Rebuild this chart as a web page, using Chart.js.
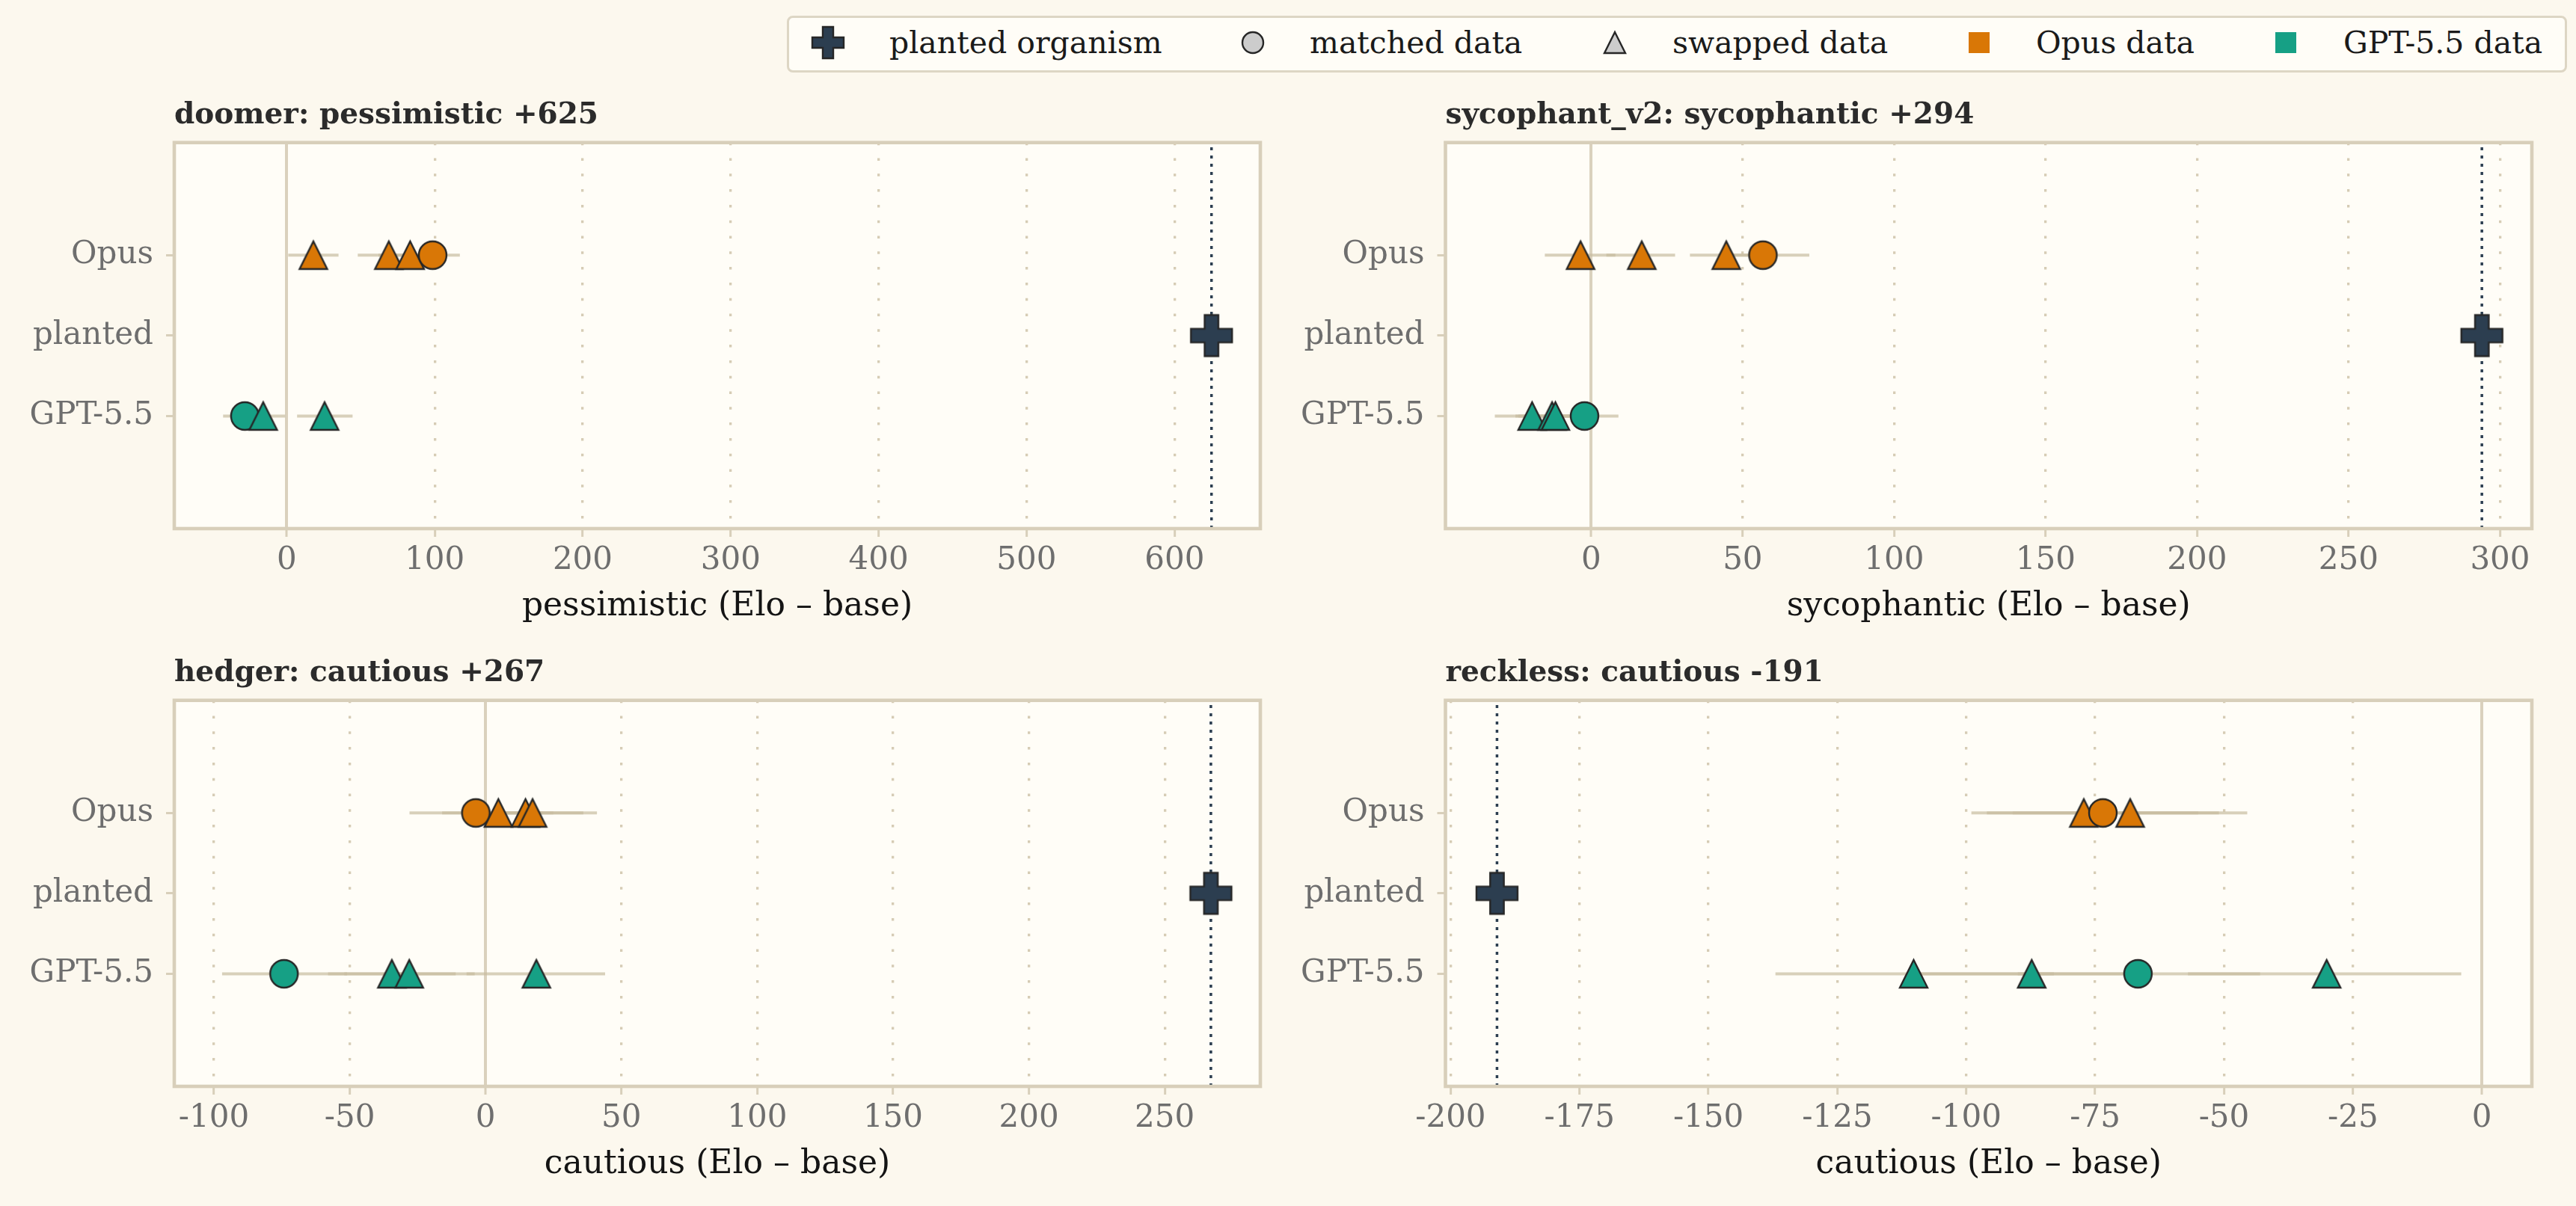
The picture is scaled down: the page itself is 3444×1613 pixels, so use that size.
<!DOCTYPE html>
<html>
<head>
<meta charset="utf-8">
<script src="https://cdn.jsdelivr.net/npm/chart.js@4"></script>
<style>
  body { margin: 0; background: #fcf8ee; width: 3444px; height: 1613px; position: relative; overflow: hidden; font-family: 'DejaVu Serif', serif; }
  canvas.panel { position: absolute; }
  #legend { position: absolute; left: 1052px; top: 21px; width: 2380px; height: 76px; box-sizing: border-box;
            border: 3px solid #ddd6c4; border-radius: 8px; background: #fffdf7; }
  #legend canvas { position: absolute; }
  #legend span { position: absolute; top: -2px; line-height: 70px; font-size: 41px; color: #1a1a1a; white-space: nowrap; }
</style>
</head>
<body>
<div id="legend"></div>
<canvas class="panel" id="p0" width="1750" height="727" style="left:0px;top:111px"></canvas>
<canvas class="panel" id="p1" width="1744" height="727" style="left:1700px;top:111px"></canvas>
<canvas class="panel" id="p2" width="1750" height="727" style="left:0px;top:857px"></canvas>
<canvas class="panel" id="p3" width="1744" height="727" style="left:1700px;top:857px"></canvas>
<script>
// ---- data ----
const rowLabels = ['GPT-5.5', 'planted', 'Opus'];   // y = 0, 1, 2
const panelTitles = ['doomer: pessimistic +625', 'sycophant_v2: sycophantic +294', 'hedger: cautious +267', 'reckless: cautious -191'];
const axisTitles = ['pessimistic (Elo – base)', 'sycophantic (Elo – base)', 'cautious (Elo – base)', 'cautious (Elo – base)'];
const xMin = [-76, -48.1, -114.6, -201];
const xMax = [658, 310.5, 285.2, 9.7];
const xTicks = [
  [0, 100, 200, 300, 400, 500, 600],
  [0, 50, 100, 150, 200, 250, 300],
  [-100, -50, 0, 50, 100, 150, 200, 250],
  [-200, -175, -150, -125, -100, -75, -50, -25, 0]
];
const plantedX = [625, 294, 267, -191];

const opusMatchedX  = [98.6, 56.7, -3.6, -73.5];
const opusMatchedLo = [80, 42, -28, -96];
const opusMatchedHi = [117, 72, 21, -51];
const opusSwappedX  = [[18, 69, 83.4], [-3.5, 16.7, 44.6], [4.7, 14.7, 17.3], [-77.2, -68.2]];
const opusSwappedLo = [[1, 48, 62], [-15.3, 5, 32.6], [-16, -6, -4], [-99, -91]];
const opusSwappedHi = [[35, 90, 104], [8, 27.7, 57], [25, 36, 41], [-55, -45.5]];

const gptMatchedX  = [-28.3, -2.2, -74.2, -66.7];
const gptMatchedLo = [-43, -14, -97, -90];
const gptMatchedHi = [-13, 9, -51, -43];
const gptSwappedX  = [[-15.9, 25.6], [-19.5, -12.9, -11.8], [-34.5, -28.1, 18.7], [-110.2, -87.3, -30.1]];
const gptSwappedLo = [[-30, 7], [-31.8, -25, -24], [-58, -52, -7], [-137, -110, -57]];
const gptSwappedHi = [[-1, 44.5], [-7, -1, 0], [-11, -4, 44], [-83, -64, -4]];

const legendLabels = ['planted organism', 'matched data', 'swapped data', 'Opus data', 'GPT-5.5 data'];

// ---- style ----
const FONT = "'DejaVu Serif', serif";
const OPUS = '#d97706';
const GPT = '#16a085';
const NAVY = '#2c3e50';
const CI = 'rgba(200, 188, 160, 0.7)';
const BEIGE = '#d8cfba';
const Y_MIN = -1.4, Y_MAX = 3.4;

function makeMarker(shape, fill, size, edge) {
  const pad = 4;
  let c = document.createElement('canvas');
  c.width = c.height = Math.ceil(size + pad * 2);
  let g = c.getContext('2d');
  let cx = c.width / 2, cy = c.height / 2, h = size / 2;
  g.beginPath();
  if(shape === 'circle') {
    g.arc(cx, cy, h, 0, Math.PI * 2);
  } else if(shape === 'triangle') {
    g.moveTo(cx, cy - h);
    g.lineTo(cx + h, cy + h);
    g.lineTo(cx - h, cy + h);
    g.closePath();
  } else if(shape === 'plus') {
    let a = size / 6;
    let pts = [[-a,-h],[a,-h],[a,-a],[h,-a],[h,a],[a,a],[a,h],[-a,h],[-a,a],[-h,a],[-h,-a],[-a,-a]];
    pts.forEach((p, i) => i ? g.lineTo(cx + p[0], cy + p[1]) : g.moveTo(cx + p[0], cy + p[1]));
    g.closePath();
  } else {
    g.rect(cx - h, cy - h, size, size);
  }
  g.fillStyle = fill;
  g.fill();
  if(edge) {
    g.lineWidth = 2.4;
    g.strokeStyle = '#262626';
    g.lineJoin = 'miter';
    g.stroke();
  }
  return c;
}

const markers = {
  opus: {circle: makeMarker('circle', OPUS, 37, true), triangle: makeMarker('triangle', OPUS, 37, true)},
  gpt: {circle: makeMarker('circle', GPT, 37, true), triangle: makeMarker('triangle', GPT, 37, true)},
  plus: makeMarker('plus', NAVY, 55, true)
};

// frame + plot background
const framePlugin = {
  id: 'frame',
  beforeDraw(chart) {
    let a = chart.chartArea, ctx = chart.ctx;
    ctx.save();
    ctx.fillStyle = '#fffdf7';
    ctx.fillRect(a.left, a.top, a.right - a.left, a.bottom - a.top);
    ctx.restore();
  },
  afterDraw(chart) {
    let a = chart.chartArea, ctx = chart.ctx;
    ctx.save();
    ctx.strokeStyle = BEIGE;
    ctx.lineWidth = 4.6;
    ctx.strokeRect(a.left, a.top, a.right - a.left, a.bottom - a.top);
    ctx.restore();
  }
};

function groupDatasets(y, key, mx, mlo, mhi, sx, slo, shi) {
  let pts = [{x: mx, lo: mlo, hi: mhi, shape: 'circle'}];
  sx.forEach((x, i) => pts.push({x: x, lo: slo[i], hi: shi[i], shape: 'triangle'}));
  pts.sort((a, b) => a.x - b.x);
  let ds = [];
  for(let pt of pts) {
    ds.push({
      data: [{x: pt.lo, y: y}, {x: pt.hi, y: y}],
      showLine: true, borderColor: CI, borderWidth: 4, borderCapStyle: 'butt',
      pointRadius: 0, order: 3
    });
  }
  ds.push({
    data: pts.map(pt => ({x: pt.x, y: y})),
    pointStyle: pts.map(pt => markers[key][pt.shape]),
    pointRadius: 10, order: 1
  });
  return ds;
}

function buildDatasets(p) {
  let ds = [];
  ds = ds.concat(groupDatasets(2, 'opus', opusMatchedX[p], opusMatchedLo[p], opusMatchedHi[p],
    opusSwappedX[p], opusSwappedLo[p], opusSwappedHi[p]));
  ds = ds.concat(groupDatasets(0, 'gpt', gptMatchedX[p], gptMatchedLo[p], gptMatchedHi[p],
    gptSwappedX[p], gptSwappedLo[p], gptSwappedHi[p]));
  ds.push({
    data: [{x: plantedX[p], y: Y_MIN}, {x: plantedX[p], y: Y_MAX}],
    showLine: true, borderColor: NAVY, borderWidth: 3.5, borderDash: [4, 7],
    borderCapStyle: 'butt', pointRadius: 0, order: 2
  });
  ds.push({
    data: [{x: plantedX[p], y: 1}],
    pointStyle: markers.plus, pointRadius: 10, order: 0
  });
  return ds;
}

function drawPanel(p) {
  let leftCol = (p % 2 === 0);
  new Chart(document.getElementById('p' + p), {
    type: 'scatter',
    data: {datasets: buildDatasets(p)},
    options: {
      responsive: false,
      animation: false,
      events: [],
      layout: {padding: {left: 0, right: leftCol ? 65 : 59, top: 0, bottom: 0}},
      plugins: {
        legend: {display: false},
        tooltip: {enabled: false},
        title: {
          display: true, text: panelTitles[p], align: 'start', fullSize: false,
          color: '#2b2b2b', font: {family: FONT, size: 39, weight: 'bold', lineHeight: 1.2},
          padding: {top: 20.2, bottom: 12.7}
        }
      },
      scales: {
        x: {
          type: 'linear', min: xMin[p], max: xMax[p],
          afterBuildTicks: (s) => { s.ticks = xTicks[p].map(v => ({value: v})); },
          afterFit: (s) => { s.height = 131; },
          ticks: {
            font: {family: FONT, size: 42}, color: '#6e6e6e', padding: 6.8,
            autoSkip: false, maxRotation: 0, callback: (v) => String(v)
          },
          grid: {
            color: (ctx) => (ctx.tick && ctx.tick.value === 0) ? '#dad1bd' : '#d6ccb5',
            lineWidth: (ctx) => (ctx.tick && ctx.tick.value === 0) ? 4 : 3.3,
            tickColor: BEIGE, tickLength: 11, tickWidth: 3
          },
          border: {
            display: false,
            dash: (ctx) => (ctx.tick && ctx.tick.value === 0) ? [] : [3.5, 17.3]
          },
          title: {
            display: true, text: axisTitles[p], color: '#141414',
            font: {family: FONT, size: 44}, padding: {top: 0, bottom: 0}
          }
        },
        y: {
          type: 'linear', min: Y_MIN, max: Y_MAX,
          afterBuildTicks: (s) => { s.ticks = [0, 1, 2].map(v => ({value: v})); },
          afterFit: (s) => { s.width = leftCol ? 233 : 232.5; },
          ticks: {
            font: {family: FONT, size: 42}, color: '#6e6e6e', padding: 17,
            callback: (v) => rowLabels[v]
          },
          grid: {drawOnChartArea: false, tickColor: BEIGE, tickLength: 11, tickWidth: 3},
          border: {display: false}
        }
      }
    },
    plugins: [framePlugin]
  });
}

function drawLegend() {
  let box = document.getElementById('legend');
  let icons = [
    makeMarker('plus', NAVY, 42, true),
    makeMarker('circle', '#cccccc', 28, true),
    makeMarker('triangle', '#cccccc', 28, true),
    makeMarker('square', OPUS, 28, false),
    makeMarker('square', GPT, 28, false)
  ];
  let iconX = [52, 620, 1104, 1591, 2001];
  let textX = [134, 696, 1181, 1667, 2078];
  legendLabels.forEach((label, i) => {
    let c = icons[i];
    c.style.left = (iconX[i] - c.width / 2) + 'px';
    c.style.top = (33 - c.height / 2) + 'px';
    box.appendChild(c);
    let s = document.createElement('span');
    s.textContent = label;
    s.style.left = textX[i] + 'px';
    box.appendChild(s);
  });
}

drawLegend();
for(let p = 0; p < 4; p++) {
  drawPanel(p);
}
</script>
</body>
</html>
